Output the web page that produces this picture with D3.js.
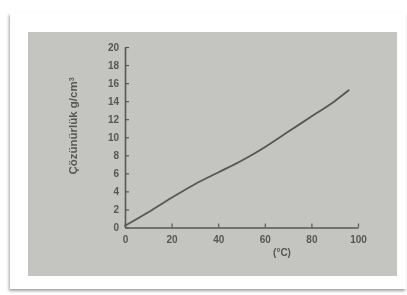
<!DOCTYPE html>
<html>
<head>
<meta charset="utf-8">
<script src="https://cdn.jsdelivr.net/npm/d3@7"></script>
<style>
  body { margin: 0; background: #fff; }
  svg { display: block; }
</style>
</head>
<body>
<svg></svg>
<script>
// solubility curve
const temps = [0, 10, 20, 30, 40, 50, 60, 70, 80, 90, 96];
const solub = [0.2, 1.7, 3.3, 4.8, 6.1, 7.4, 8.9, 10.6, 12.3, 14.0, 15.2];
const xTicks = [0, 20, 40, 60, 80, 100];
const yTicks = [0, 2, 4, 6, 8, 10, 12, 14, 16, 18, 20];
const xTickLabels = ["0", "20", "40", "60", "80", "100"];

const width = 407, height = 295;
const ink = "#575755";
const tickFont = "bold 10px 'Liberation Sans', Arial, sans-serif";

const svg = d3.select("svg")
    .attr("width", width)
    .attr("height", height);

const defs = svg.append("defs");
const blur = defs.append("filter").attr("id", "soft")
    .attr("x", "-10%").attr("y", "-10%").attr("width", "120%").attr("height", "120%");
blur.append("feGaussianBlur").attr("stdDeviation", 0.5);

const shade = defs.append("filter").attr("id", "shadow")
    .attr("x", "-5%").attr("y", "-5%").attr("width", "110%").attr("height", "110%");
shade.append("feDropShadow").attr("dx", -1).attr("dy", 2)
    .attr("stdDeviation", 1.5).attr("flood-color", "#777").attr("flood-opacity", 0.7);

// white card + gray photo
svg.append("rect")
    .attr("x", 10).attr("y", 13).attr("width", 396).attr("height", 276)
    .attr("fill", "#fff").attr("filter", "url(#shadow)");
svg.append("rect")
    .attr("x", 28).attr("y", 32).attr("width", 369).attr("height", 244)
    .attr("fill", "#c4c4c1");

const xScale = d3.scaleLinear().domain([0, 100]).range([125, 358]);
const yScale = d3.scaleLinear().domain([0, 20]).range([227.5, 47]);

const g = svg.append("g").attr("filter", "url(#soft)");

const xAxis = d3.axisBottom(xScale)
    .tickValues(xTicks)
    .tickFormat((d, i) => xTickLabels[i])
    .tickSizeInner(-4).tickSizeOuter(0).tickPadding(8);
const gx = g.append("g")
    .attr("transform", `translate(0,${yScale(0)})`)
    .call(xAxis);
gx.select(".domain").attr("stroke", ink).attr("stroke-width", 1.6);
gx.selectAll(".tick line").attr("stroke", ink).attr("stroke-width", 1.2);
gx.selectAll(".tick text").attr("fill", ink).style("font", tickFont);

const yAxis = d3.axisLeft(yScale)
    .tickValues(yTicks)
    .tickSizeInner(-4).tickSizeOuter(0).tickPadding(6);
const gy = g.append("g")
    .attr("transform", `translate(${xScale(0)},0)`)
    .call(yAxis);
gy.select(".domain").attr("stroke", ink).attr("stroke-width", 1.6);
gy.selectAll(".tick line").attr("stroke", ink).attr("stroke-width", 1.2);
gy.selectAll(".tick text").attr("fill", ink).style("font", tickFont);

// axis titles
g.append("text")
    .attr("x", 282).attr("y", 256)
    .attr("text-anchor", "middle")
    .attr("fill", ink)
    .style("font", "bold 10px 'Liberation Sans', Arial, sans-serif")
    .text("(°C)");

const yt = g.append("text")
    .attr("transform", "translate(77,126) rotate(-90)")
    .attr("text-anchor", "middle")
    .attr("fill", ink)
    .style("font", "bold 11.5px 'Liberation Sans', Arial, sans-serif");
yt.append("tspan").text("Çözünürlük g/cm");
yt.append("tspan").attr("dy", "-0.5em").style("font-size", "7px").text("3");

// curve
const line = d3.line()
    .x((d, i) => xScale(temps[i]))
    .y(d => yScale(d))
    .curve(d3.curveMonotoneX);

g.append("path")
    .datum(solub)
    .attr("d", line)
    .attr("fill", "none")
    .attr("stroke", ink)
    .attr("stroke-width", 1.8)
    .attr("stroke-linecap", "round");
</script>
</body>
</html>
